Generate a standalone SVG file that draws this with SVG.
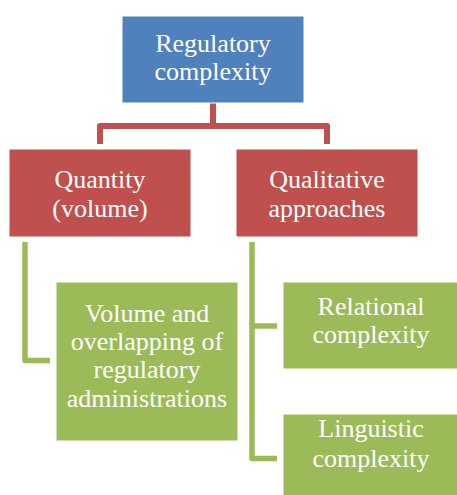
<svg xmlns="http://www.w3.org/2000/svg" width="457" height="495" viewBox="0 0 457 495">
<style>
.box{stroke:#ffffff;stroke-width:1}
.blue{fill:#4F81BD}
.red{fill:#C0504D}
.green{fill:#9BBB59}
.t{font-family:"Liberation Serif","Times New Roman",serif;font-size:26px;fill:#ffffff;text-anchor:middle}
.cr{fill:none;stroke:#C0504D;stroke-width:6;stroke-linejoin:round}
.cg{fill:none;stroke:#9BBB59;stroke-width:5.5;stroke-linejoin:round}
</style>
<rect width="457" height="495" fill="#ffffff"/>
<g id="connectors">
<path class="cr" d="M213 103 V126 M100 144 V126 H327 V144"/>
<path class="cg" d="M25 242 V360.5 H50"/>
<path class="cg" d="M252 242 V458.5 H277 M252 326 H277"/>
</g>
<g id="node-regulatory">
<rect class="box blue" x="122" y="16" width="182" height="87"/>
<text class="t" x="213" y="52">Regulatory</text>
<text class="t" x="213" y="80">complexity</text>
</g>
<g id="node-quantity">
<rect class="box red" x="9" y="149" width="182" height="88"/>
<text class="t" x="100" y="188">Quantity</text>
<text class="t" x="100" y="217">(volume)</text>
</g>
<g id="node-qualitative">
<rect class="box red" x="236" y="149" width="182" height="88"/>
<text class="t" x="327" y="188">Qualitative</text>
<text class="t" x="327" y="217">approaches</text>
</g>
<g id="node-volume">
<rect class="box green" x="56" y="282" width="182" height="159"/>
<text class="t" x="147" y="322">Volume and</text>
<text class="t" x="147" y="350">overlapping of</text>
<text class="t" x="147" y="378">regulatory</text>
<text class="t" x="147" y="407">administrations</text>
</g>
<g id="node-relational">
<rect class="box green" x="283" y="282" width="182" height="87"/>
<text class="t" x="371" y="315">Relational</text>
<text class="t" x="371" y="343">complexity</text>
</g>
<g id="node-linguistic">
<rect class="box green" x="283" y="414" width="182" height="87"/>
<text class="t" x="371" y="437">Linguistic</text>
<text class="t" x="371" y="467">complexity</text>
</g>
</svg>
